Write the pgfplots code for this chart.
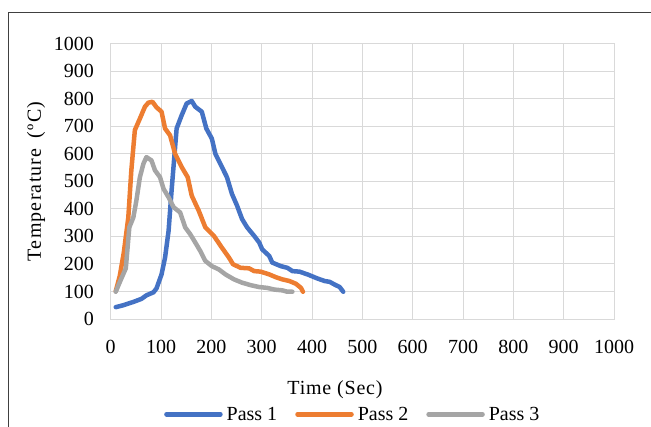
\documentclass[border=0pt]{standalone}
\usepackage{pgfplots}
\pgfplotsset{compat=1.18}
\usepackage{fontspec}
\setmainfont{Liberation Serif}
\definecolor{p1}{HTML}{4472C4}
\definecolor{p2}{HTML}{ED7D31}
\definecolor{p3}{HTML}{A5A5A5}
\definecolor{gridc}{HTML}{D9D9D9}
\begin{document}
\begin{tikzpicture}[x=1pt,y=1pt]
\useasboundingbox (0,0) rectangle (651,426);
\clip (0,0) rectangle (651,426);
\draw[line width=1.2pt, black!75] (8.3,-10) -- (8.3,413.7) -- (670,413.7);
\begin{axis}[
  at={(110.7pt,107pt)}, anchor=south west,
  scale only axis, width=503.3pt, height=275.3pt,
  xmin=0, xmax=1000, ymin=0, ymax=1000,
  xtick={0,100,...,1000}, ytick={0,100,...,1000},
  grid=major, major grid style={draw=gridc, line width=1pt},
  axis line style={draw=gridc, line width=1pt},
  tick style={draw=none},
  font=\fontsize{20}{24}\selectfont,
  /pgf/number format/assume math mode=true,
  /pgf/number format/1000 sep={},
  xticklabel style={anchor=center, yshift=-28pt, inner sep=0pt},
  yticklabel style={anchor=east, xshift=-16.5pt, inner sep=0pt},
  xlabel={\addfontfeature{LetterSpace=4}Time (Sec)},
  xlabel style={at={(axis description cs:0.4457,-0.258)}, anchor=center, inner sep=0pt},
  ylabel={\addfontfeature{LetterSpace=6}Temperature\hspace{4pt} (ºC)},
  ylabel style={at={(axis description cs:-0.1484,0.5)}, anchor=center, inner sep=0pt},
  legend columns=3,
  legend style={draw=none, fill=none, at={(axis description cs:0.1059,-0.346)}, anchor=west,
    inner sep=0pt, font=\fontsize{20}{24}\selectfont,
    /tikz/every even column/.append style={column sep=16pt},
    /tikz/every odd column/.append style={column sep=2pt}},
  legend image code/.code={\draw[#1, line width=4.5pt] (0pt,0pt) -- (54pt,0pt);},
  every axis plot/.append style={line width=4.5pt, line join=round, line cap=round},
]
\addplot[p1] coordinates {
(10,43) (25,50) (45,62) (61,73) (71,86) (85,97) (91,111) (101,162) (108,223)
(115,320) (121,467) (128,625) (131,692) (141,740) (151,783) (161,792) (168,771)
(181,753) (190,692) (201,655) (208,600) (221,552) (231,515) (241,454) (251,412)
(261,363) (271,333) (285,302) (295,278) (301,253) (315,229) (321,205) (338,192)
(351,186) (361,174) (375,172) (391,162) (411,147) (425,138) (435,135) (445,125)
(455,116) (462,99)};
\addlegendentry{Pass 1}
\addplot[p2] coordinates {
(10,101) (18,156) (26,241) (35,369) (41,540) (48,686) (58,728) (68,771) (75,786)
(83,789) (91,769) (101,753) (108,692) (118,667) (128,600) (141,552) (153,515)
(161,448) (175,393) (188,333) (205,302) (221,259) (235,223) (243,199) (258,186)
(275,184) (285,174) (298,172) (315,162) (328,152) (341,144) (355,138) (368,128)
(378,113) (382,99)};
\addlegendentry{Pass 2}
\addplot[p3] coordinates {
(10,99) (19,138) (30,184) (37,333) (45,369) (51,430) (58,515) (65,564) (71,588)
(81,576) (88,540) (98,515) (105,473) (115,442) (125,406) (138,387) (148,333)
(158,308) (168,278) (178,247) (188,211) (201,192) (215,180) (228,162) (245,144)
(261,132) (278,123) (295,116) (311,113) (325,107) (341,104) (351,99) (361,99)};
\addlegendentry{Pass 3}
\end{axis}
\end{tikzpicture}
\end{document}
